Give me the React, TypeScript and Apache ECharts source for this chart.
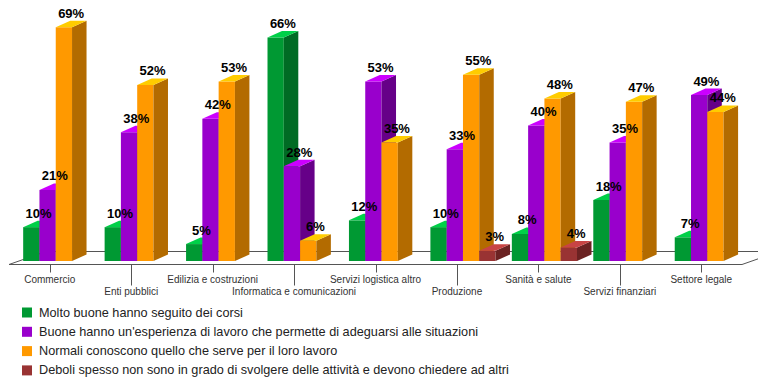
import React, { useEffect, useRef } from "react";
import * as echarts from "echarts";

const categories = [
  "Commercio",
  "Enti pubblici",
  "Edilizia e costruzioni",
  "Informatica e comunicazioni",
  "Servizi logistica altro",
  "Produzione",
  "Sanità e salute",
  "Servizi finanziari",
  "Settore legale",
];

const seriesNames = [
  "Molto buone hanno seguito dei corsi",
  "Buone hanno un'esperienza di lavoro che permette di adeguarsi alle situazioni",
  "Normali conoscono quello che serve per il loro lavoro",
  "Deboli spesso non sono in grado di svolgere delle attività e devono chiedere ad altri",
];

const molto = [10, 10, 5, 66, 12, 10, 8, 18, 7];
const buone = [21, 38, 42, 28, 53, 33, 40, 35, 49];
const normali = [69, 52, 53, 6, 35, 55, 48, 47, 44];
const deboli: (number | null)[] = [null, null, null, null, null, 3, 4, null, null];

const yMax = 75;

const palettes = [
  { front: "#009933", top: "#00d048", side: "#006b24" },
  { front: "#9900cc", top: "#cc00ff", side: "#660088" },
  { front: "#ff9900", top: "#ffcc00", side: "#b36b00" },
  { front: "#993333", top: "#c84444", side: "#6b2222" },
];

const FONT = 'Arial, "Liberation Sans", sans-serif';
const DX = 14.5;
const DY = -6.5;

function barSeries(name: string, values: (number | null)[], k: number) {
  const pal = palettes[k];
  const data = values
    .map((v, i) => (v == null ? null : [i, v]))
    .filter((d) => d != null);
  return {
    type: "custom",
    name,
    itemStyle: { color: pal.front },
    encode: { x: 0, y: 1 },
    data,
    renderItem: (params: any, api: any) => {
      const cat = api.value(0);
      const v = api.value(1);
      const base = api.coord([cat, 0]);
      const top = api.coord([cat, v]);
      const band = api.size([1, 0])[0];
      const w = band * 0.2;
      const x0 = base[0] - band * 0.326 + k * w;
      const x1 = x0 + w;
      const by = base[1];
      const ty = top[1];
      return {
        type: "group",
        children: [
          {
            type: "rect",
            shape: { x: x0, y: ty, width: w, height: by - ty },
            style: { fill: pal.front },
            z2: k * 3 + 1,
          },
          {
            type: "polygon",
            shape: {
              points: [
                [x1, by],
                [x1 + DX, by + DY],
                [x1 + DX, ty + DY],
                [x1, ty],
              ],
            },
            style: { fill: pal.side },
            z2: k * 3 + 2,
          },
          {
            type: "polygon",
            shape: {
              points: [
                [x0, ty],
                [x0 + DX, ty + DY],
                [x1 + DX, ty + DY],
                [x1, ty],
              ],
            },
            style: { fill: pal.top },
            z2: k * 3 + 3,
          },
          {
            type: "text",
            x: x0 + w / 2 + DX / 2,
            y: ty + DY - 1,
            style: {
              text: v + "%",
              fill: "#000",
              font: "bold 13px " + FONT,
              textAlign: "center",
              textVerticalAlign: "bottom",
            },
            z2: 100,
          },
        ],
      };
    },
  };
}

const floorSeries = {
  type: "custom",
  name: "floor",
  silent: true,
  encode: { x: 0, y: 1 },
  data: [[0, 0]],
  renderItem: (params: any, api: any) => {
    const cs = params.coordSys;
    const y0 = api.coord([0, 0])[1];
    const fy = Math.round(y0 + 3) + 0.5;
    const byy = Math.round(y0 - 10) + 0.5;
    const L = cs.x;
    const R = cs.x + cs.width;
    const D = 37;
    const stroke = "#555";
    const children: any[] = [
      {
        type: "polyline",
        shape: { points: [[L + D, byy], [R + D, byy]] },
        style: { stroke, lineWidth: 1, fill: "none" },
        z2: -1,
      },
      {
        type: "polyline",
        shape: { points: [[L + D, byy], [L, fy], [R, fy], [R + D, byy]] },
        style: { stroke, lineWidth: 1, fill: "none" },
        z2: -1,
      },
    ];
    categories.forEach((_, i) => {
      const x = Math.round(api.coord([i, 0])[0]) + 0.5;
      children.push({
        type: "line",
        shape: { x1: x, y1: fy, x2: x, y2: fy + (i % 2 ? 21 : 8) },
        style: { stroke, lineWidth: 1 },
        z2: -1,
      });
    });
    return { type: "group", children };
  },
};

export default function App() {
  const ref = useRef<HTMLDivElement>(null);
  useEffect(() => {
    if (!ref.current) return;
    const chart = echarts.init(ref.current, undefined, { renderer: "svg" });
    chart.setOption({
      animation: false,
      backgroundColor: "#fff",
      grid: { left: 9, right: 16, top: 7, bottom: 120, containLabel: false },
      xAxis: {
        type: "category",
        data: categories,
        axisLine: { show: false },
        axisTick: { show: false },
        axisLabel: {
          interval: 0,
          margin: 12,
          fontSize: 10,
          lineHeight: 12,
          color: "#333",
          fontFamily: FONT,
          formatter: (v: string, i: number) => (i % 2 ? "\n" + v : v),
        },
      },
      yAxis: { type: "value", min: 0, max: yMax, show: false },
      legend: {
        data: seriesNames,
        orient: "vertical",
        left: 22,
        top: 306,
        itemWidth: 10,
        itemHeight: 10,
        itemGap: 6.3,
        icon: "rect",
        padding: 0,
        textStyle: {
          fontSize: 12.7,
          color: "#222",
          fontFamily: FONT,
          lineHeight: 12,
          padding: [0, 0, 0, 2],
        },
      },
      series: [
        floorSeries,
        barSeries(seriesNames[0], molto, 0),
        barSeries(seriesNames[1], buone, 1),
        barSeries(seriesNames[2], normali, 2),
        barSeries(seriesNames[3], deboli, 3),
      ],
    });
    return () => chart.dispose();
  }, []);
  return (
    <div
      ref={ref}
      style={{ position: "fixed", left: 0, top: 0, width: 758, height: 381 }}
    />
  );
}
